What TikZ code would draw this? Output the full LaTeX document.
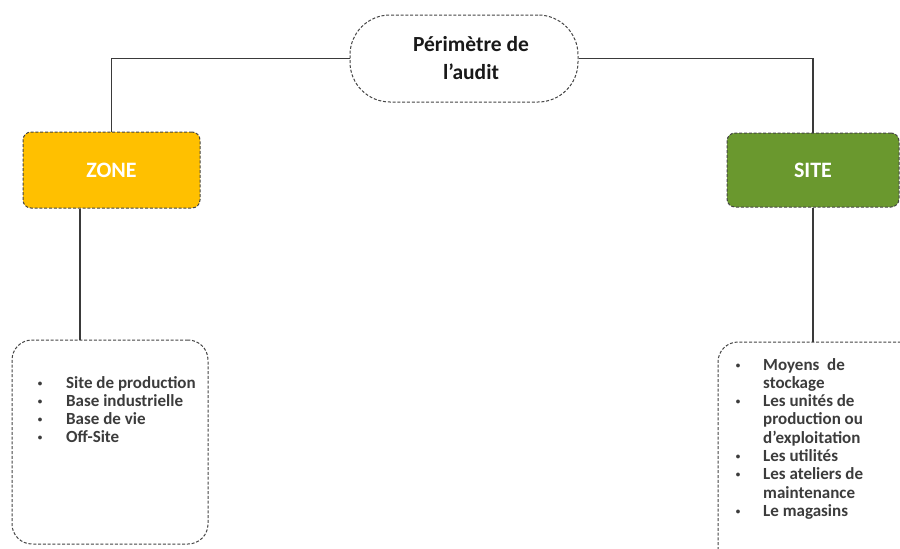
\documentclass[tikz,border=0pt]{standalone}
\usepackage{fontspec}
\setmainfont{Carlito}
\definecolor{gold}{HTML}{FFC000}
\definecolor{olive}{HTML}{6A982E}
\definecolor{txtgray}{HTML}{3C3C3C}
\definecolor{linegray}{HTML}{3A3A3A}
\definecolor{dashgray}{HTML}{454545}
\begin{document}
\begin{tikzpicture}[x=1pt,y=-1pt,
  dashbox/.style={draw=dashgray, line width=1pt, dash pattern=on 3pt off 1.8pt},
  titlebox/.style={dashbox, fill=white, rounded corners=40pt, minimum width=228pt, minimum height=87pt, inner sep=0pt,
    font=\bfseries\fontsize{21.5}{28}\selectfont, text=black!90, align=center},
  catbox/.style={dashbox, rounded corners=8pt, inner sep=0pt, text=white, font=\bfseries\fontsize{22}{24}\selectfont},
  listbox/.style={dashbox, fill=white, rounded corners=20pt, inner sep=0pt},
  conn/.style={draw=linegray, line width=1.1pt},
  item/.style={inner sep=0pt, anchor=base west, text=txtgray, font=\bfseries\fontsize{17}{18}\selectfont},
  bul/.style={inner sep=0pt, anchor=base, text=txtgray, font=\bfseries\fontsize{9}{10}\selectfont}
]
\useasboundingbox (0,0) rectangle (900,549);
\fill[white] (0,0) rectangle (900,549);

% nodes
\node[titlebox] (top) at (464,58.5) {\hspace*{14pt}Périmètre de\\\hspace*{14pt}l’audit};
\node[catbox, fill=gold, minimum width=177pt, minimum height=76pt] (zone) at (111.5,170) {ZONE};
\node[catbox, fill=olive, minimum width=172pt, minimum height=74pt] (site) at (813,170) {SITE};
\node[listbox, minimum width=196pt, minimum height=204pt] (lbox) at (110,442) {};
\node[listbox, minimum width=222pt, minimum height=228pt] (rbox) at (829,456) {};

% connectors
\coordinate (lc) at (80,0);
\draw[conn] (top.west) -| (zone.north);
\draw[conn] (top.east) -| (site.north);
\draw[conn] (zone.south -| lc) -- (lbox.north -| lc);
\draw[conn] (site.south) -- (site.south |- rbox.north);

% left list
\node[bul] (lb1) at (40,386) {•};
\node[bul] (lb2) at (40,404) {•};
\node[bul] (lb3) at (40,422) {•};
\node[bul] (lb4) at (40,440) {•};
\node[item] (li1) at (66,388) {Site de production};
\node[item] (li2) at (66,406) {Base industrielle};
\node[item] (li3) at (66,424) {Base de vie};
\node[item] (li4) at (66,442) {Off-Site};

% right list
\node[bul] (rb1) at (738,368) {•};
\node[bul] (rb2) at (738,404.6) {•};
\node[bul] (rb3) at (738,459.5) {•};
\node[bul] (rb4) at (738,477.8) {•};
\node[bul] (rb5) at (738,514.4) {•};
\node[item] (ri1) at (763,370) {Moyens\ \ de};
\node[item] (ri2) at (763,388.3) {stockage};
\node[item] (ri3) at (763,406.6) {Les unités de};
\node[item] (ri4) at (763,424.9) {production ou};
\node[item] (ri5) at (763,443.2) {d’exploitation};
\node[item] (ri6) at (763,461.5) {Les utilités};
\node[item] (ri7) at (763,479.8) {Les ateliers de};
\node[item] (ri8) at (763,498.1) {maintenance};
\node[item] (ri9) at (763,516.4) {Le magasins};
\end{tikzpicture}
\end{document}
